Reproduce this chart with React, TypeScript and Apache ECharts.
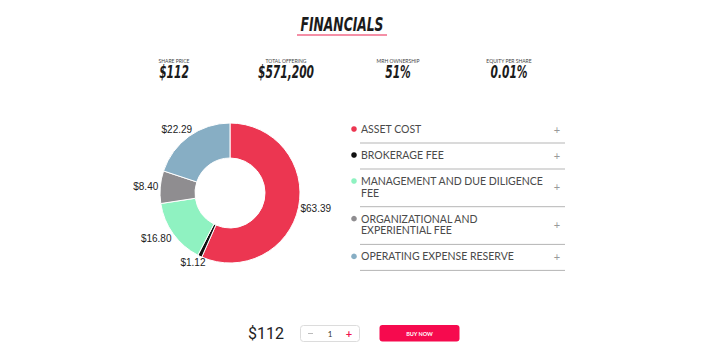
import React, { useEffect, useRef } from "react";
import * as echarts from "echarts";

const categories = [
  "Asset Cost",
  "Brokerage Fee",
  "Management and Due Diligence Fee",
  "Organizational and Experiential Fee",
  "Operating Expense Reserve",
];
const legendLines = [
  ["ASSET COST"],
  ["BROKERAGE FEE"],
  ["MANAGEMENT AND DUE DILIGENCE", "FEE"],
  ["ORGANIZATIONAL AND", "EXPERIENTIAL FEE"],
  ["OPERATING EXPENSE RESERVE"],
];
const values = [63.39, 1.12, 16.8, 8.4, 22.29];
const colors = ["#ec3651", "#111111", "#8ff2c1", "#8f8d90", "#87aec4"];
const statLabels = ["SHARE PRICE", "TOTAL OFFERING", "MRH OWNERSHIP", "EQUITY PER SHARE"];
const statValues = ["$112", "$571,200", "51%", "0.01%"];
const titleText = "FINANCIALS";
const priceText = "$112";
const quantityText = "1";
const buyText = "BUY NOW";

const CX = 230;
const CY = 193;
const R_IN = 35;
const R_OUT = 70;
const DISPLAY_FONT = '"Liberation Sans Narrow", "DejaVu Sans Condensed", "Liberation Sans", sans-serif';
const UI_FONT = "Lato, 'Open Sans', sans-serif";

export default function App() {
  const ref = useRef<HTMLDivElement>(null);

  useEffect(() => {
    const chart = echarts.init(ref.current!, null, { renderer: "svg" });
    const total = values.reduce((a, b) => a + b, 0);
    const mids: number[] = [];
    let cum = 0;
    values.forEach((v) => {
      mids.push(((cum + v / 2) / total) * Math.PI * 2);
      cum += v;
    });

    const graphics: any[] = [];
    // Title
    graphics.push({
      type: "text",
      x: 342,
      y: 25,
      scaleX: 0.72,
      silent: true,
      style: {
        text: titleText,
        fontFamily: DISPLAY_FONT,
        fontSize: 19,
        fontWeight: "bold",
        fontStyle: "italic",
        fill: "#1b1b1b",
        align: "center",
        verticalAlign: "middle",
      },
    });
    graphics.push({
      type: "line",
      silent: true,
      shape: { x1: 297, y1: 35, x2: 387, y2: 35 },
      style: { stroke: "#f06a88", lineWidth: 1.5 },
    });

    // Stats
    const statX = [174, 286, 398, 509];
    statLabels.forEach((lab, i) => {
      graphics.push({
        type: "text",
        x: statX[i],
        y: 61,
        silent: true,
        style: {
          text: lab,
          fontFamily: UI_FONT,
          fontSize: 5,
          fill: "#444",
          align: "center",
          verticalAlign: "middle",
        },
      });
      graphics.push({
        type: "text",
        x: statX[i],
        y: 72.5,
        scaleX: 0.66,
        silent: true,
        style: {
          text: statValues[i],
          fontFamily: DISPLAY_FONT,
          fontSize: 18,
          fontWeight: "bold",
          fontStyle: "italic",
          fill: "#1b1b1b",
          align: "center",
          verticalAlign: "middle",
        },
      });
    });

    // Legend list
    let y = 117;
    legendLines.forEach((lines, i) => {
      const textYs: number[] = [];
      lines.forEach((ln, k) => {
        const ty = y + 12 + k * 11.7;
        textYs.push(ty);
        graphics.push({
          type: "text",
          x: 361,
          y: ty,
          silent: true,
          style: {
            text: ln,
            fontFamily: UI_FONT,
            fontSize: 10.5,
            fill: "#4a4a4a",
            align: "left",
            verticalAlign: "middle",
          },
        });
      });
      graphics.push({
        type: "circle",
        silent: true,
        shape: { cx: 354, cy: textYs[0], r: 2.8 },
        style: { fill: colors[i] },
      });
      const midY = (textYs[0] + textYs[textYs.length - 1]) / 2;
      graphics.push({
        type: "text",
        x: 557,
        y: midY,
        silent: true,
        style: {
          text: "+",
          fontFamily: UI_FONT,
          fontSize: 11,
          fill: "#999",
          align: "center",
          verticalAlign: "middle",
        },
      });
      const lineY = textYs[textYs.length - 1] + 14;
      graphics.push({
        type: "line",
        silent: true,
        shape: { x1: 360, y1: lineY, x2: 565, y2: lineY },
        style: { stroke: "#b5b5b5", lineWidth: 1 },
      });
      y = lineY;
    });

    // Bottom bar
    graphics.push({
      type: "text",
      x: 266,
      y: 333.5,
      silent: true,
      style: {
        text: priceText,
        fontFamily: "Roboto, sans-serif",
        fontSize: 16,
        fill: "#222",
        align: "center",
        verticalAlign: "middle",
      },
    });
    graphics.push({
      type: "rect",
      silent: true,
      shape: { x: 300.5, y: 325.5, width: 59, height: 16, r: 3 },
      style: { fill: "#fff", stroke: "#dcdcdc", lineWidth: 1 },
    });
    graphics.push({
      type: "line",
      silent: true,
      shape: { x1: 308, y1: 333.5, x2: 313, y2: 333.5 },
      style: { stroke: "#bbb", lineWidth: 1 },
    });
    graphics.push({
      type: "text",
      x: 330,
      y: 333.5,
      silent: true,
      style: {
        text: quantityText,
        fontFamily: UI_FONT,
        fontSize: 8,
        fill: "#333",
        align: "center",
        verticalAlign: "middle",
      },
    });
    graphics.push({
      type: "text",
      x: 349,
      y: 333.5,
      silent: true,
      style: {
        text: "+",
        fontFamily: UI_FONT,
        fontSize: 11,
        fontWeight: "bold",
        fill: "#f0124f",
        align: "center",
        verticalAlign: "middle",
      },
    });
    graphics.push({
      type: "rect",
      silent: true,
      shape: { x: 379.5, y: 325, width: 80, height: 16.5, r: 3 },
      style: { fill: "#f60a4e" },
    });
    graphics.push({
      type: "text",
      x: 419.5,
      y: 333.5,
      silent: true,
      style: {
        text: buyText,
        fontFamily: UI_FONT,
        fontSize: 5.5,
        fontWeight: "bold",
        fill: "#fff",
        align: "center",
        verticalAlign: "middle",
      },
    });

    chart.setOption({
      animation: false,
      backgroundColor: "#ffffff",
      graphic: graphics,
      series: [
        {
          type: "pie",
          center: [CX, CY],
          radius: [R_IN, R_OUT],
          startAngle: 90,
          clockwise: true,
          avoidLabelOverlap: false,
          emphasis: { disabled: true },
          itemStyle: { borderColor: "#ffffff", borderWidth: 1 },
          data: categories.map((name, i) => ({
            name,
            value: values[i],
            itemStyle: { color: colors[i] },
          })),
          label: {
            show: true,
            position: "outside",
            formatter: (p: any) => "$" + Number(p.value).toFixed(2),
            fontSize: 10,
            fontFamily: '"Liberation Sans", Arial, sans-serif',
            color: "#222",
          },
          labelLine: { show: false },
          labelLayout: (p: any) => {
            const th = mids[p.dataIndex];
            const vx = Math.sin(th);
            const vy = -Math.cos(th);
            const ax = CX + R_OUT * vx;
            const ay = CY + R_OUT * vy;
            const w = p.labelRect.width;
            const h = p.labelRect.height;
            const vs = 1 / Math.max(Math.abs(vx), Math.abs(vy));
            return {
              x: ax + (w / 2) * vx * vs + 2 * vx,
              y: ay + (h / 2) * vy * vs + 2 * vy,
              align: "center",
              verticalAlign: "middle",
            };
          },
        },
      ],
    });

    return () => chart.dispose();
  }, []);

  return (
    <div
      ref={ref}
      style={{ position: "absolute", left: 0, top: 0, width: 720, height: 352 }}
    />
  );
}
